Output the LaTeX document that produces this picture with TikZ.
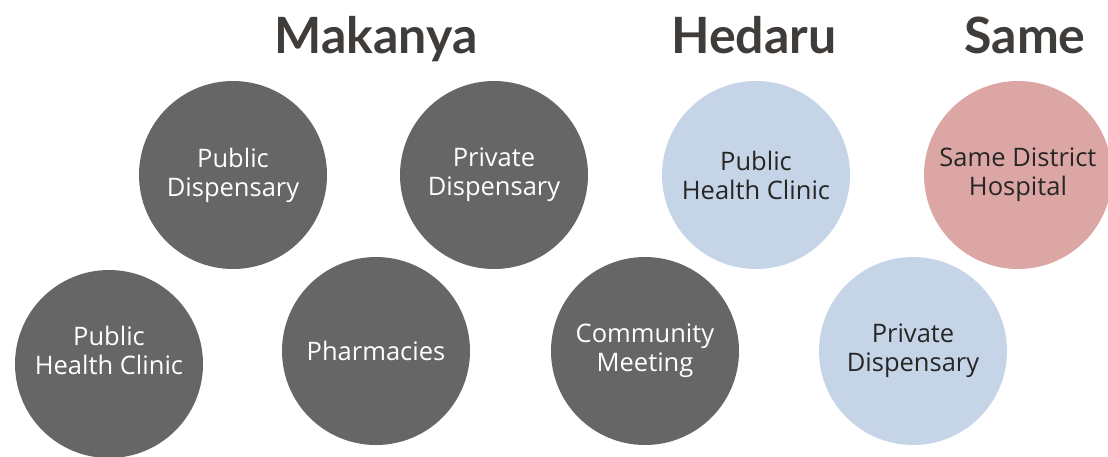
\documentclass[tikz,border=0pt]{standalone}
\usepackage{fontspec}
\setmainfont{Open Sans}
\newfontfamily\townfont{Lato}
\definecolor{darkdot}{HTML}{666666}
\definecolor{bluedot}{HTML}{C5D4E6}
\definecolor{pinkdot}{HTML}{DCA6A5}
\definecolor{titlegray}{HTML}{403C3A}
\definecolor{inkdark}{HTML}{262626}
\tikzset{
  dot/.style={circle, minimum size=188pt, inner sep=0pt, align=center,
    font=\fontsize{25.5}{29}\selectfont},
  darkdot/.style={dot, fill=darkdot, text=white},
  bluedot/.style={dot, fill=bluedot, text=inkdark},
  pinkdot/.style={dot, fill=pinkdot, text=inkdark},
  town/.style={anchor=base, text=titlegray, font=\townfont\fontsize{50}{60}\selectfont\bfseries}
}
\begin{document}
\begin{tikzpicture}[x=1pt, y=-1pt]
  \useasboundingbox (0,0) rectangle (1108,456);
  \clip (0,0) rectangle (1108,456);
  % town names:
  \node[town] (makanya) at (376,53) {Makanya};
  \node[town] (hedaru) at (754,53) {Hedaru};
  \node[town] (same) at (1025,53) {Same};
  % Makanya:
  \node[darkdot] (pubdisp) at (233,175) {Public\\Dispensary};
  \node[darkdot] (privdisp) at (494,175) {Private\\Dispensary};
  \node[darkdot, text depth=28pt] (pubclinic) at (109,364) {Public\\Health Clinic};
  \node[darkdot] (pharm) at (376,351) {Pharmacies};
  \node[darkdot] (meeting) at (645,351) {Community\\Meeting};
  % Hedaru:
  \node[bluedot] (hedclinic) at (756,175) {Public\\Health Clinic};
  \node[bluedot] (heddisp) at (913,351) {Private\\Dispensary};
  % Same:
  \node[pinkdot] (hospital) at (1018,175) {Same District\\Hospital};
\end{tikzpicture}
\end{document}
